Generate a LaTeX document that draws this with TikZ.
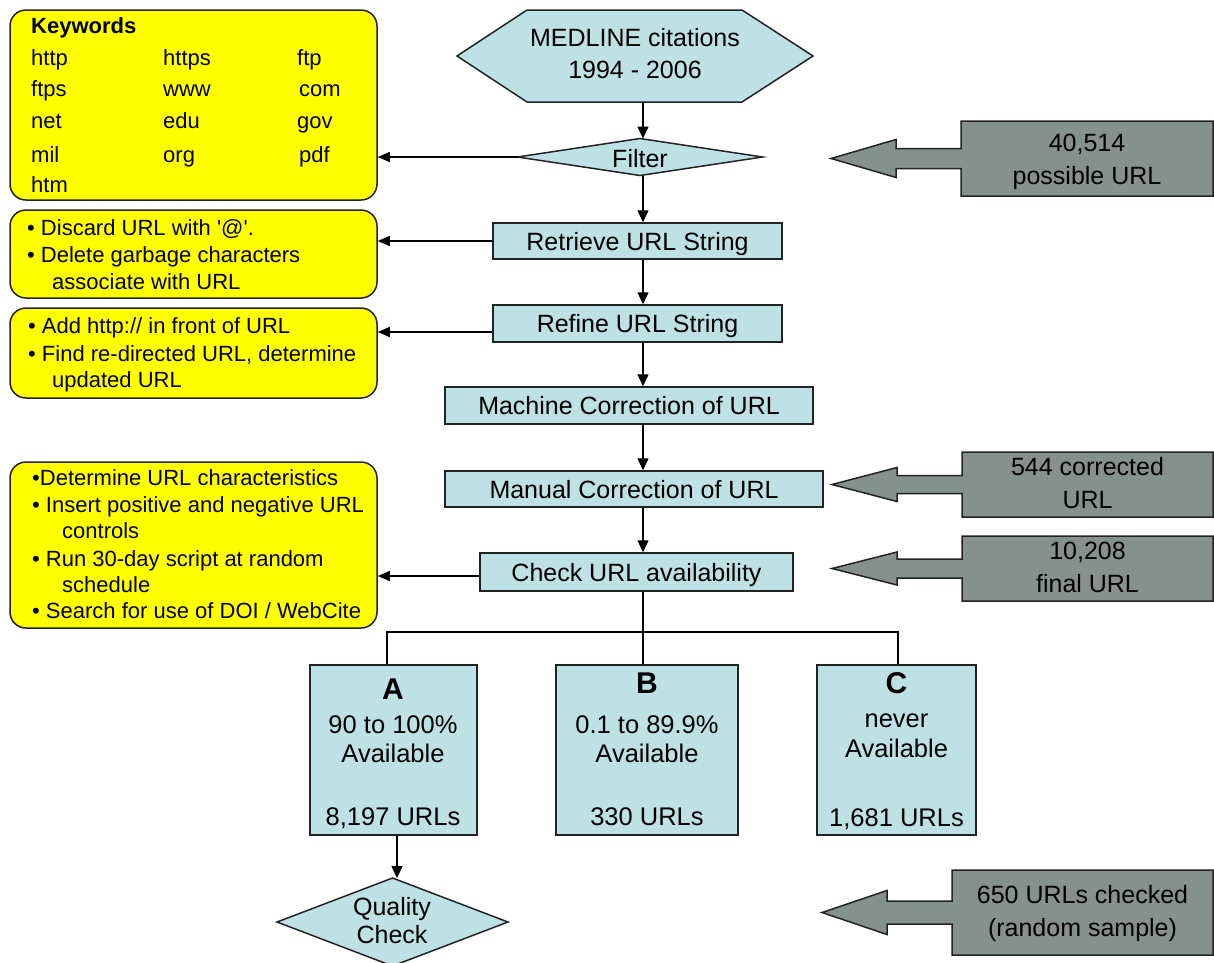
\documentclass[tikz,border=0pt]{standalone}
\usepackage{fontspec}
\setmainfont{Liberation Sans}
\usetikzlibrary{arrows.meta,calc}
\definecolor{boxblue}{RGB}{190,225,230}
\definecolor{kwyellow}{RGB}{255,255,0}
\definecolor{arrgrey}{RGB}{133,145,140}
\definecolor{edgegrey}{RGB}{35,35,35}
\tikzset{
  main/.style={inner sep=0pt, font=\fontsize{25}{30}\selectfont, text height=18pt, text depth=0pt},
  bluebox/.style={main, draw=edgegrey, fill=boxblue, line width=1.5pt},
  plainbox/.style={inner sep=0pt, draw=edgegrey, fill=boxblue, line width=1.5pt},
  container/.style={inner sep=0pt, outer sep=0pt},
  shapefill/.style={draw=edgegrey, fill=boxblue, line width=1.5pt, line join=miter},
  ybox/.style={draw=edgegrey, fill=kwyellow, line width=1.5pt, rounded corners=16pt, inner sep=0pt},
  ytext/.style={anchor=base west, inner sep=0pt, font=\fontsize{22}{26}\selectfont},
  ctext/.style={anchor=base, inner sep=0pt, font=\fontsize{25.5}{30}\selectfont},
  bigletter/.style={anchor=base, inner sep=0pt, font=\fontsize{30}{34}\selectfont\bfseries},
  mtext/.style={inner sep=0pt, align=center, font=\fontsize{25}{32}\selectfont},
  gtext/.style={inner sep=0pt, align=center, font=\fontsize{25}{33}\selectfont},
  greyshape/.style={draw=edgegrey, fill=arrgrey, line width=1.5pt, line join=miter},
  conn/.style={draw=black, line width=1.4pt},
  arr/.style={conn, -{Triangle[length=12pt,width=11pt]}},
  larr/.style={conn, -{Triangle[length=12pt,width=10pt]}},
}
\newcommand\grarrow[3]{%
  \filldraw[greyshape] (#1.north west) -- (#1.north east) -- (#1.south east) -- (#1.south west)
    -- ($(#1.west)+(0,#2)$) -- ++(-65,0) -- ++(0,#3-#2) -- ++(-65,-#3) -- ++(65,-#3) -- ++(0,#3-#2)
    -- ($(#1.west)+(0,-#2)$) -- cycle;}
\begin{document}
\begin{tikzpicture}[x=1pt,y=-1pt]
\useasboundingbox (0,0) rectangle (1214,962);
\coordinate (col) at (643,0);

% ---------- yellow boxes ----------
\node[ybox, minimum width=367pt, minimum height=190pt] (kw) at (193.5,105) {};
\node[ytext, font=\fontsize{22}{26}\selectfont\bfseries] (kwh) at (31,33) {Keywords};
\node[ytext] (kw1) at (31,65) {http};
\node[ytext] (kw2) at (163,65) {https};
\node[ytext] (kw3) at (297,65) {ftp};
\node[ytext] (kw4) at (31,96) {ftps};
\node[ytext] (kw5) at (163,96) {www};
\node[ytext] (kw6) at (299,96) {com};
\node[ytext] (kw7) at (31,128) {net};
\node[ytext] (kw8) at (163,128) {edu};
\node[ytext] (kw9) at (297,128) {gov};
\node[ytext] (kw10) at (31,162) {mil};
\node[ytext] (kw11) at (163,162) {org};
\node[ytext] (kw12) at (299,162) {pdf};
\node[ytext] (kw13) at (31,192) {htm};

\node[ybox, minimum width=367pt, minimum height=88pt] (y2) at (193.5,254) {};
\node[ytext] (y2a) at (27,235) {\textbullet\ Discard URL with \textquotesingle @\textquotesingle .};
\node[ytext] (y2b) at (27,262) {\textbullet\ Delete garbage characters};
\node[ytext] (y2c) at (52,289) {associate with URL};

\node[ybox, minimum width=367pt, minimum height=90pt] (y3) at (193.5,353) {};
\node[ytext] (y3a) at (28,333) {\textbullet\ Add http:// in front of URL};
\node[ytext] (y3b) at (28,361) {\textbullet\ Find re-directed URL, determine};
\node[ytext] (y3c) at (52,387) {updated URL};

\node[ybox, minimum width=367pt, minimum height=166pt] (y4) at (193.5,545) {};
\node[ytext] (y4a) at (32,485) {\textbullet Determine URL characteristics};
\node[ytext] (y4b) at (32,512) {\textbullet\ Insert positive and negative URL};
\node[ytext] (y4c) at (62,538) {controls};
\node[ytext] (y4d) at (32,566) {\textbullet\ Run 30-day script at random};
\node[ytext] (y4e) at (62,592) {schedule};
\node[ytext] (y4f) at (32,618) {\textbullet\ Search for use of DOI / WebCite};

% ---------- main column ----------
\node[container, minimum width=356pt, minimum height=92pt] (hex) at (635,56) {};
\filldraw[shapefill] (hex.west) -- ([xshift=70pt]hex.north west) -- ([xshift=-71pt]hex.north east)
  -- (hex.east) -- ([xshift=-71pt]hex.south east) -- ([xshift=70pt]hex.south west) -- cycle;
\node[mtext] (hexlbl) at (635,54) {MEDLINE citations\\1994 - 2006};

\node[container, minimum width=245pt, minimum height=37pt] (filt) at (640,157) {};
\filldraw[shapefill] (filt.west) -- (filt.north) -- (filt.east) -- (filt.south) -- cycle;
\node[main] (filtlbl) at (640,158) {Filter};

\node[bluebox, minimum width=289pt, minimum height=36pt] (ret) at (637.5,241) {Retrieve URL String};
\node[bluebox, minimum width=289pt, minimum height=37pt] (ref) at (637.5,323.5) {Refine URL String};
\node[bluebox, minimum width=368pt, minimum height=37pt] (mac) at (629,405.5) {Machine Correction of URL};
\node[bluebox, minimum width=378pt, minimum height=36pt] (man) at (634,489) {Manual Correction of URL};
\node[bluebox, minimum width=313pt, minimum height=38pt] (chk) at (636.5,572) {Check URL availability};

% ---------- A B C ----------
\node[plainbox, minimum width=167pt, minimum height=170pt] (A) at (393.5,750) {};
\node[bigletter] (Al) at (393,699) {A};
\node[ctext] (A1) at (393,733) {90 to 100\%};
\node[ctext] (A2) at (393,762) {Available};
\node[ctext] (A3) at (393,825) {8,197 URLs};

\node[plainbox, minimum width=182pt, minimum height=170pt] (B) at (647,750) {};
\node[bigletter] (Bl) at (647,693) {B};
\node[ctext] (B1) at (647,733) {0.1 to 89.9\%};
\node[ctext] (B2) at (647,762) {Available};
\node[ctext] (B3) at (647,825) {330 URLs};

\node[plainbox, minimum width=159pt, minimum height=170pt] (C) at (896.5,750) {};
\node[bigletter] (Cl) at (896.5,693) {C};
\node[ctext] (C1) at (896.5,727) {never};
\node[ctext] (C2) at (896.5,757) {Available};
\node[ctext] (C3) at (896.5,826) {1,681 URLs};

\node[container, minimum width=231pt, minimum height=88pt] (qc) at (392.5,922) {};
\filldraw[shapefill] (qc.west) -- (qc.north) -- (qc.east) -- (qc.south) -- cycle;
\node[mtext, font=\fontsize{25}{28}\selectfont] (qclbl) at (392,921) {Quality\\Check};

% ---------- grey arrows ----------
\node[container, minimum width=252pt, minimum height=75pt] (g1) at (1087,158.5) {};
\grarrow{g1}{10}{19}
\node[gtext] (g1t) at (1087,162) {40,514\\possible URL};

\node[container, minimum width=251pt, minimum height=65pt] (g2) at (1087.5,484.5) {};
\grarrow{g2}{9}{17}
\node[gtext] (g2t) at (1087.5,483.5) {544 corrected\\URL};

\node[container, minimum width=251pt, minimum height=65pt] (g3) at (1087.5,568.5) {};
\grarrow{g3}{9.5}{16.5}
\node[gtext] (g3t) at (1087.5,567.5) {10,208\\final URL};

\node[container, minimum width=261pt, minimum height=85pt] (g4) at (1082.5,912.5) {};
\grarrow{g4}{11.5}{22}
\node[gtext] (g4t) at (1082.5,914) {650 URLs checked\\(random sample)};

% ---------- connectors ----------
\draw[arr] (hex.south -| col) -- (filt.north -| col);
\draw[arr] (filt.south -| col) -- (ret.north -| col);
\draw[arr] (ret.south -| col) -- (ref.north -| col);
\draw[arr] (ref.south -| col) -- (mac.north -| col);
\draw[arr] (mac.south -| col) -- (man.north -| col);
\draw[arr] (man.south -| col) -- (chk.north -| col);

\draw[larr] (filt.west) -- (filt.west -| kw.east);
\draw[larr] (ret.west) -- (ret.west -| y2.east);
\draw[larr] ([yshift=-8.5pt]ref.west) -- ([yshift=-8.5pt]ref.west -| y3.east);
\draw[larr] ([yshift=-4pt]chk.west) -- ([yshift=-4pt]chk.west -| y4.east);

\coordinate (aX) at (387,632);
\coordinate (cX) at (898,632);
\draw[conn] (chk.south -| col) -- (B.north -| col);
\draw[conn] (A.north -| aX) -- (aX) -- (cX) -- (C.north -| cX);

\coordinate (qx) at (397,0);
\draw[arr] (A.south -| qx) -- (qc.north -| qx);
\end{tikzpicture}
\end{document}
